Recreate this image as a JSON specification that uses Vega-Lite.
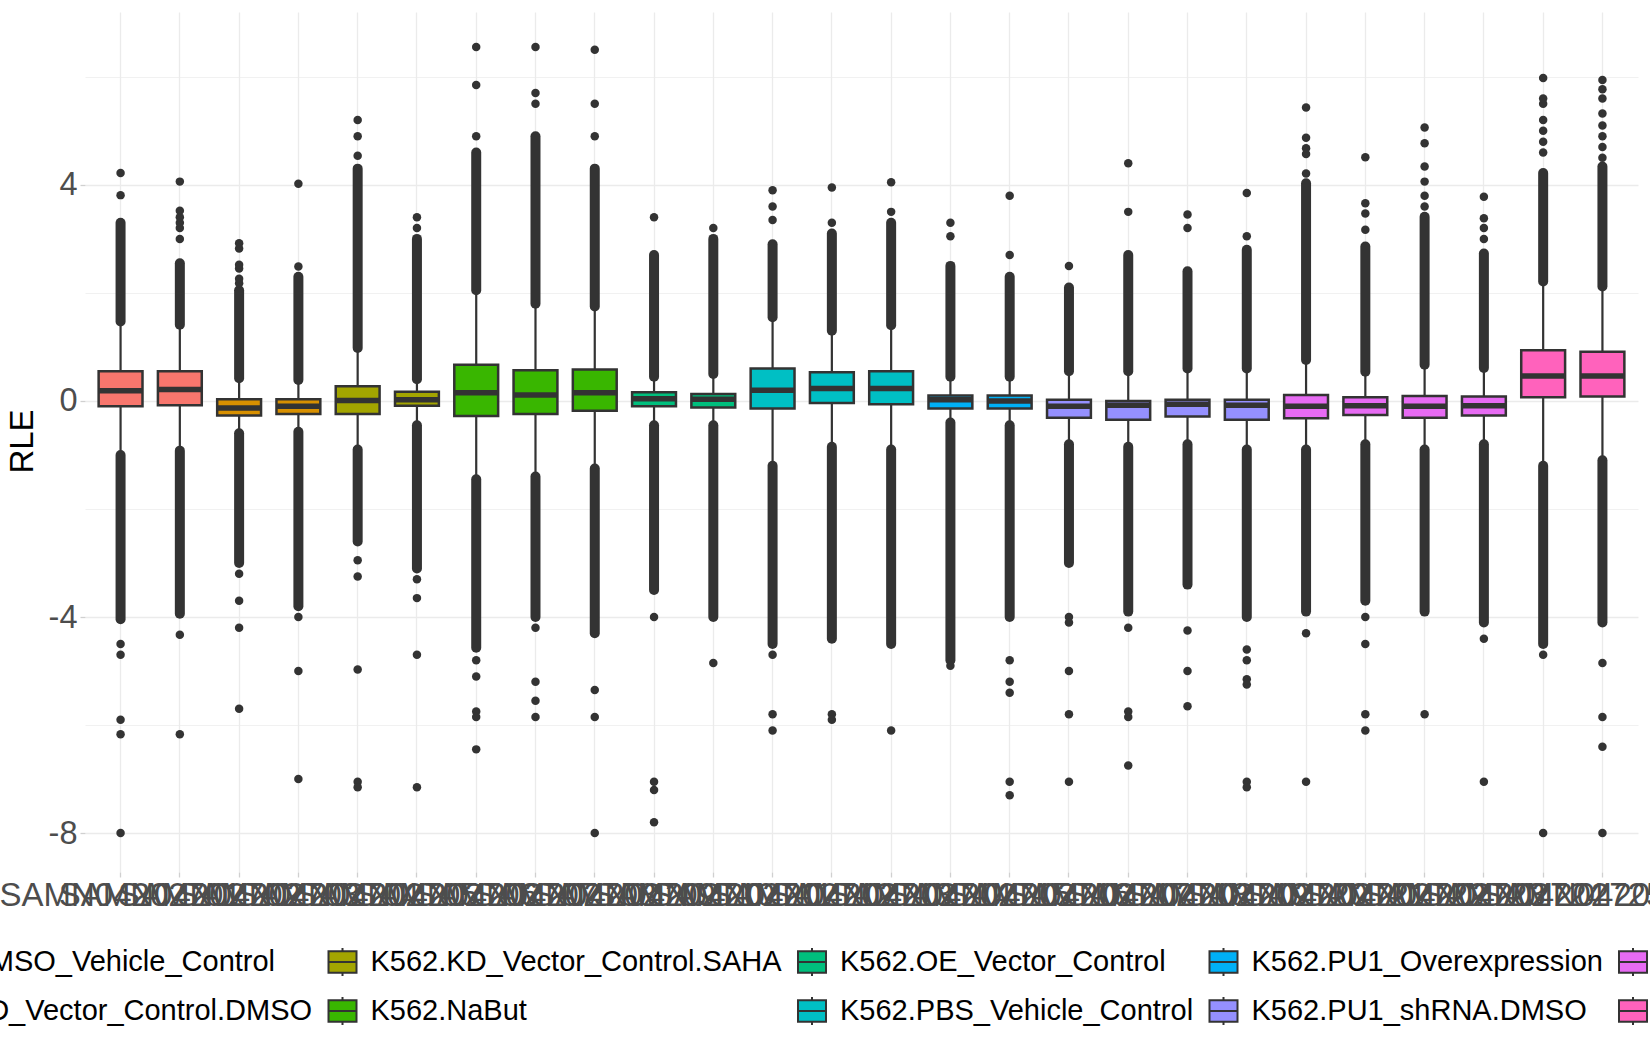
{
  "$schema": "https://vega.github.io/schema/vega-lite/v6.json",
  "width": 1553,
  "height": 860,
  "autosize": {"type": "none"},
  "padding": {"left": 85, "top": 12, "right": 12, "bottom": 178},
  "background": "white",
  "config": {"view": {"stroke": null}, "font": "Liberation Sans"},
  "datasets": {
    "boxes": [
      {"s": "SAMN04202701", "g": "K562.DMSO_Vehicle_Control", "loBot": -4.04, "lo": -1.0, "q1": -0.1, "med": 0.19, "q3": 0.55, "hi": 1.47, "hiTop": 3.3},
      {"s": "SAMN04202702", "g": "K562.DMSO_Vehicle_Control", "loBot": -3.94, "lo": -0.92, "q1": -0.08, "med": 0.21, "q3": 0.55, "hi": 1.41, "hiTop": 2.55},
      {"s": "SAMN04202703", "g": "K562.KD_Vector_Control.DMSO", "loBot": -3.0, "lo": -0.6, "q1": -0.27, "med": -0.13, "q3": 0.03, "hi": 0.42, "hiTop": 2.05},
      {"s": "SAMN04202704", "g": "K562.KD_Vector_Control.DMSO", "loBot": -3.8, "lo": -0.57, "q1": -0.24, "med": -0.1, "q3": 0.03, "hi": 0.39, "hiTop": 2.3},
      {"s": "SAMN04202705", "g": "K562.KD_Vector_Control.SAHA", "loBot": -2.6, "lo": -0.9, "q1": -0.24, "med": 0.01, "q3": 0.27, "hi": 0.98, "hiTop": 4.3},
      {"s": "SAMN04202706", "g": "K562.KD_Vector_Control.SAHA", "loBot": -3.1, "lo": -0.45, "q1": -0.09, "med": 0.02, "q3": 0.17, "hi": 0.4, "hiTop": 3.0},
      {"s": "SAMN04202707", "g": "K562.NaBut", "loBot": -4.57, "lo": -1.45, "q1": -0.28, "med": 0.15, "q3": 0.67, "hi": 2.05, "hiTop": 4.6},
      {"s": "SAMN04202708", "g": "K562.NaBut", "loBot": -4.0, "lo": -1.4, "q1": -0.24, "med": 0.11, "q3": 0.57, "hi": 1.8, "hiTop": 4.9},
      {"s": "SAMN04202709", "g": "K562.NaBut", "loBot": -4.3, "lo": -1.25, "q1": -0.18, "med": 0.15, "q3": 0.58, "hi": 1.75, "hiTop": 4.3},
      {"s": "SAMN04202710", "g": "K562.OE_Vector_Control", "loBot": -3.5, "lo": -0.45, "q1": -0.1, "med": 0.04, "q3": 0.16, "hi": 0.45, "hiTop": 2.7},
      {"s": "SAMN04202711", "g": "K562.OE_Vector_Control", "loBot": -4.0, "lo": -0.45, "q1": -0.12, "med": 0.03, "q3": 0.13, "hi": 0.5, "hiTop": 3.0},
      {"s": "SAMN04202712", "g": "K562.PBS_Vehicle_Control", "loBot": -4.5, "lo": -1.2, "q1": -0.14, "med": 0.2, "q3": 0.6, "hi": 1.55, "hiTop": 2.9},
      {"s": "SAMN04202713", "g": "K562.PBS_Vehicle_Control", "loBot": -4.4, "lo": -0.85, "q1": -0.04, "med": 0.23, "q3": 0.53, "hi": 1.3, "hiTop": 3.1},
      {"s": "SAMN04202714", "g": "K562.PBS_Vehicle_Control", "loBot": -4.5, "lo": -0.9, "q1": -0.06, "med": 0.23, "q3": 0.55, "hi": 1.4, "hiTop": 3.3},
      {"s": "SAMN04202715", "g": "K562.PU1_Overexpression", "loBot": -4.8, "lo": -0.4, "q1": -0.14, "med": 0.02, "q3": 0.1, "hi": 0.45, "hiTop": 2.5},
      {"s": "SAMN04202716", "g": "K562.PU1_Overexpression", "loBot": -4.0, "lo": -0.45, "q1": -0.14, "med": 0.0, "q3": 0.1, "hi": 0.45, "hiTop": 2.3},
      {"s": "SAMN04202717", "g": "K562.PU1_shRNA.DMSO", "loBot": -3.0, "lo": -0.8, "q1": -0.31, "med": -0.1, "q3": 0.02, "hi": 0.55, "hiTop": 2.1},
      {"s": "SAMN04202718", "g": "K562.PU1_shRNA.DMSO", "loBot": -3.9, "lo": -0.85, "q1": -0.35, "med": -0.08, "q3": 0.0, "hi": 0.55, "hiTop": 2.7},
      {"s": "SAMN04202719", "g": "K562.PU1_shRNA.DMSO", "loBot": -3.4, "lo": -0.8, "q1": -0.29, "med": -0.06, "q3": 0.02, "hi": 0.6, "hiTop": 2.4},
      {"s": "SAMN04202720", "g": "K562.PU1_shRNA.DMSO", "loBot": -4.0, "lo": -0.9, "q1": -0.35, "med": -0.08, "q3": 0.02, "hi": 0.6, "hiTop": 2.8},
      {"s": "SAMN04202721", "g": "K562.PU1_shRNA.SAHA", "loBot": -3.9, "lo": -0.9, "q1": -0.32, "med": -0.1, "q3": 0.11, "hi": 0.76, "hiTop": 4.03},
      {"s": "SAMN04202722", "g": "K562.PU1_shRNA.SAHA", "loBot": -3.7, "lo": -0.8, "q1": -0.26, "med": -0.09, "q3": 0.07, "hi": 0.54, "hiTop": 2.86},
      {"s": "SAMN04202723", "g": "K562.PU1_shRNA.SAHA", "loBot": -3.9, "lo": -0.9, "q1": -0.31, "med": -0.1, "q3": 0.09, "hi": 0.67, "hiTop": 3.41},
      {"s": "SAMN04202724", "g": "K562.PU1_shRNA.SAHA", "loBot": -4.1, "lo": -0.8, "q1": -0.27, "med": -0.09, "q3": 0.08, "hi": 0.61, "hiTop": 2.73},
      {"s": "SAMN04202725", "g": "K562.SAHA", "loBot": -4.5, "lo": -1.2, "q1": 0.07, "med": 0.46, "q3": 0.94, "hi": 2.21, "hiTop": 4.22},
      {"s": "SAMN04202726", "g": "K562.SAHA", "loBot": -4.1, "lo": -1.1, "q1": 0.08, "med": 0.46, "q3": 0.91, "hi": 2.12, "hiTop": 4.34}
    ],
    "points": [
      {"s": "SAMN04202701", "v": 3.81}, {"s": "SAMN04202701", "v": 4.22}, {"s": "SAMN04202701", "v": -4.5}, {"s": "SAMN04202701", "v": -4.7}, {"s": "SAMN04202701", "v": -5.9}, {"s": "SAMN04202701", "v": -6.17}, {"s": "SAMN04202701", "v": -8.0},
      {"s": "SAMN04202702", "v": 3.0}, {"s": "SAMN04202702", "v": 3.2}, {"s": "SAMN04202702", "v": 3.3}, {"s": "SAMN04202702", "v": 3.4}, {"s": "SAMN04202702", "v": 3.52}, {"s": "SAMN04202702", "v": 4.06}, {"s": "SAMN04202702", "v": -4.33}, {"s": "SAMN04202702", "v": -6.17},
      {"s": "SAMN04202703", "v": 2.18}, {"s": "SAMN04202703", "v": 2.26}, {"s": "SAMN04202703", "v": 2.45}, {"s": "SAMN04202703", "v": 2.52}, {"s": "SAMN04202703", "v": 2.82}, {"s": "SAMN04202703", "v": 2.92}, {"s": "SAMN04202703", "v": -3.2}, {"s": "SAMN04202703", "v": -3.7}, {"s": "SAMN04202703", "v": -4.2}, {"s": "SAMN04202703", "v": -5.7},
      {"s": "SAMN04202704", "v": 2.49}, {"s": "SAMN04202704", "v": 4.02}, {"s": "SAMN04202704", "v": -4.0}, {"s": "SAMN04202704", "v": -5.0}, {"s": "SAMN04202704", "v": -7.0},
      {"s": "SAMN04202705", "v": 4.54}, {"s": "SAMN04202705", "v": 4.9}, {"s": "SAMN04202705", "v": 5.2}, {"s": "SAMN04202705", "v": -2.95}, {"s": "SAMN04202705", "v": -3.25}, {"s": "SAMN04202705", "v": -4.97}, {"s": "SAMN04202705", "v": -7.05}, {"s": "SAMN04202705", "v": -7.15},
      {"s": "SAMN04202706", "v": 3.2}, {"s": "SAMN04202706", "v": 3.4}, {"s": "SAMN04202706", "v": -3.3}, {"s": "SAMN04202706", "v": -3.65}, {"s": "SAMN04202706", "v": -4.7}, {"s": "SAMN04202706", "v": -7.15},
      {"s": "SAMN04202707", "v": 4.9}, {"s": "SAMN04202707", "v": 5.85}, {"s": "SAMN04202707", "v": 6.55}, {"s": "SAMN04202707", "v": -4.8}, {"s": "SAMN04202707", "v": -5.1}, {"s": "SAMN04202707", "v": -5.75}, {"s": "SAMN04202707", "v": -5.85}, {"s": "SAMN04202707", "v": -6.45},
      {"s": "SAMN04202708", "v": 5.5}, {"s": "SAMN04202708", "v": 5.7}, {"s": "SAMN04202708", "v": 6.55}, {"s": "SAMN04202708", "v": -4.2}, {"s": "SAMN04202708", "v": -5.2}, {"s": "SAMN04202708", "v": -5.55}, {"s": "SAMN04202708", "v": -5.85},
      {"s": "SAMN04202709", "v": 4.9}, {"s": "SAMN04202709", "v": 5.5}, {"s": "SAMN04202709", "v": 6.5}, {"s": "SAMN04202709", "v": -5.35}, {"s": "SAMN04202709", "v": -5.85}, {"s": "SAMN04202709", "v": -8.0},
      {"s": "SAMN04202710", "v": 3.4}, {"s": "SAMN04202710", "v": -4.0}, {"s": "SAMN04202710", "v": -7.05}, {"s": "SAMN04202710", "v": -7.2}, {"s": "SAMN04202710", "v": -7.8},
      {"s": "SAMN04202711", "v": 3.2}, {"s": "SAMN04202711", "v": -4.85},
      {"s": "SAMN04202712", "v": 3.35}, {"s": "SAMN04202712", "v": 3.6}, {"s": "SAMN04202712", "v": 3.9}, {"s": "SAMN04202712", "v": -4.7}, {"s": "SAMN04202712", "v": -5.8}, {"s": "SAMN04202712", "v": -6.1},
      {"s": "SAMN04202713", "v": 3.3}, {"s": "SAMN04202713", "v": 3.95}, {"s": "SAMN04202713", "v": -5.8}, {"s": "SAMN04202713", "v": -5.9},
      {"s": "SAMN04202714", "v": 3.5}, {"s": "SAMN04202714", "v": 4.05}, {"s": "SAMN04202714", "v": -6.1},
      {"s": "SAMN04202715", "v": 3.05}, {"s": "SAMN04202715", "v": 3.3}, {"s": "SAMN04202715", "v": -4.9},
      {"s": "SAMN04202716", "v": 2.7}, {"s": "SAMN04202716", "v": 3.8}, {"s": "SAMN04202716", "v": -4.8}, {"s": "SAMN04202716", "v": -5.2}, {"s": "SAMN04202716", "v": -5.4}, {"s": "SAMN04202716", "v": -7.05}, {"s": "SAMN04202716", "v": -7.3},
      {"s": "SAMN04202717", "v": 2.5}, {"s": "SAMN04202717", "v": -4.0}, {"s": "SAMN04202717", "v": -4.1}, {"s": "SAMN04202717", "v": -5.0}, {"s": "SAMN04202717", "v": -5.8}, {"s": "SAMN04202717", "v": -7.05},
      {"s": "SAMN04202718", "v": 3.5}, {"s": "SAMN04202718", "v": 4.4}, {"s": "SAMN04202718", "v": -4.2}, {"s": "SAMN04202718", "v": -5.75}, {"s": "SAMN04202718", "v": -5.85}, {"s": "SAMN04202718", "v": -6.75},
      {"s": "SAMN04202719", "v": 3.2}, {"s": "SAMN04202719", "v": 3.45}, {"s": "SAMN04202719", "v": -4.25}, {"s": "SAMN04202719", "v": -5.0}, {"s": "SAMN04202719", "v": -5.65},
      {"s": "SAMN04202720", "v": 3.05}, {"s": "SAMN04202720", "v": 3.85}, {"s": "SAMN04202720", "v": -4.6}, {"s": "SAMN04202720", "v": -4.8}, {"s": "SAMN04202720", "v": -5.15}, {"s": "SAMN04202720", "v": -5.25}, {"s": "SAMN04202720", "v": -7.05}, {"s": "SAMN04202720", "v": -7.15},
      {"s": "SAMN04202721", "v": 4.21}, {"s": "SAMN04202721", "v": 4.57}, {"s": "SAMN04202721", "v": 4.68}, {"s": "SAMN04202721", "v": 4.87}, {"s": "SAMN04202721", "v": 5.43}, {"s": "SAMN04202721", "v": -4.3}, {"s": "SAMN04202721", "v": -7.05},
      {"s": "SAMN04202722", "v": 3.17}, {"s": "SAMN04202722", "v": 3.47}, {"s": "SAMN04202722", "v": 3.66}, {"s": "SAMN04202722", "v": 4.51}, {"s": "SAMN04202722", "v": -4.0}, {"s": "SAMN04202722", "v": -4.5}, {"s": "SAMN04202722", "v": -5.8}, {"s": "SAMN04202722", "v": -6.1},
      {"s": "SAMN04202723", "v": 3.6}, {"s": "SAMN04202723", "v": 3.8}, {"s": "SAMN04202723", "v": 4.06}, {"s": "SAMN04202723", "v": 4.34}, {"s": "SAMN04202723", "v": 4.77}, {"s": "SAMN04202723", "v": 5.06}, {"s": "SAMN04202723", "v": -5.8},
      {"s": "SAMN04202724", "v": 3.0}, {"s": "SAMN04202724", "v": 3.2}, {"s": "SAMN04202724", "v": 3.38}, {"s": "SAMN04202724", "v": 3.78}, {"s": "SAMN04202724", "v": -4.4}, {"s": "SAMN04202724", "v": -7.05},
      {"s": "SAMN04202725", "v": 4.6}, {"s": "SAMN04202725", "v": 4.8}, {"s": "SAMN04202725", "v": 5.0}, {"s": "SAMN04202725", "v": 5.2}, {"s": "SAMN04202725", "v": 5.5}, {"s": "SAMN04202725", "v": 5.6}, {"s": "SAMN04202725", "v": 5.98}, {"s": "SAMN04202725", "v": -4.7}, {"s": "SAMN04202725", "v": -8.0},
      {"s": "SAMN04202726", "v": 4.5}, {"s": "SAMN04202726", "v": 4.7}, {"s": "SAMN04202726", "v": 4.9}, {"s": "SAMN04202726", "v": 5.1}, {"s": "SAMN04202726", "v": 5.32}, {"s": "SAMN04202726", "v": 5.6}, {"s": "SAMN04202726", "v": 5.77}, {"s": "SAMN04202726", "v": 5.94}, {"s": "SAMN04202726", "v": -4.85}, {"s": "SAMN04202726", "v": -5.85}, {"s": "SAMN04202726", "v": -6.4}, {"s": "SAMN04202726", "v": -8.0}
    ]
  },
  "layer": [
    {
      "data": {"name": "boxes"},
      "mark": {"type": "rule", "color": "#333333", "strokeWidth": 2.2},
      "encoding": {
        "x": {
          "field": "s", "type": "nominal", "sort": null, "title": null,
          "scale": {"paddingInner": 0, "paddingOuter": 0.1},
          "axis": {
            "title": null, "grid": true, "gridColor": "#EBEBEB", "gridWidth": 1.3, "bandPosition": 0.5,
            "domain": false, "ticks": true, "tickColor": "#D0D0D0", "tickSize": 5, "tickWidth": 1.3,
            "labelFont": "Liberation Sans", "labelFontSize": 33, "labelColor": "#4D4D4D", "labelAngle": 0,
            "labelOverlap": false, "labelLimit": 1000, "labelPadding": 2.5, "labelBound": false, "labelFlush": false
          }
        },
        "y": {
          "field": "lo", "type": "quantitative", "title": "RLE",
          "scale": {"domain": [-8.72, 7.2], "nice": false, "zero": false},
          "axis": {
            "title": "RLE", "values": [-8, -6, -4, -2, 0, 2, 4, 6],
            "labelExpr": "datum.value % 4 === 0 ? (datum.value < 0 ? '-' + abs(datum.value) : '' + datum.value) : ''",
            "grid": true, "gridColor": "#EBEBEB",
            "gridWidth": {"condition": {"test": "datum.value % 4 === 0", "value": 1.3}, "value": 0.7},
            "domain": false, "tickColor": "#D0D0D0", "tickSize": 5, "tickWidth": 1.3,
            "tickOpacity": {"condition": {"test": "datum.value % 4 === 0", "value": 1}, "value": 0},
            "labelFont": "Liberation Sans", "labelFontSize": 32.5, "labelColor": "#4D4D4D", "labelPadding": 3,
            "titleFont": "Liberation Sans", "titleFontSize": 33, "titleColor": "black", "titleFontWeight": "normal",
            "titleAngle": 270, "titleX": -53, "titleY": 429, "titleAlign": "center", "titleBaseline": "alphabetic"
          }
        },
        "y2": {"field": "hi"}
      }
    },
    {
      "data": {"name": "boxes"},
      "mark": {"type": "rule", "color": "#333333", "strokeWidth": 10, "strokeCap": "round"},
      "encoding": {
        "x": {"field": "s", "type": "nominal", "sort": null, "title": null},
        "y": {"field": "hi", "type": "quantitative", "title": "RLE", "scale": {"domain": [-8.72, 7.2], "nice": false, "zero": false}},
        "y2": {"field": "hiTop"}
      }
    },
    {
      "data": {"name": "boxes"},
      "mark": {"type": "rule", "color": "#333333", "strokeWidth": 10, "strokeCap": "round"},
      "encoding": {
        "x": {"field": "s", "type": "nominal", "sort": null, "title": null},
        "y": {"field": "loBot", "type": "quantitative", "title": "RLE", "scale": {"domain": [-8.72, 7.2], "nice": false, "zero": false}},
        "y2": {"field": "lo"}
      }
    },
    {
      "data": {"name": "points"},
      "mark": {"type": "circle", "color": "#333333", "size": 72, "opacity": 1},
      "encoding": {
        "x": {"field": "s", "type": "nominal", "sort": null, "title": null},
        "y": {"field": "v", "type": "quantitative", "title": "RLE", "scale": {"domain": [-8.72, 7.2], "nice": false, "zero": false}}
      }
    },
    {
      "data": {"name": "boxes"},
      "mark": {"type": "bar", "stroke": "#333333", "strokeWidth": 2.5, "width": {"band": 0.74}, "opacity": 1},
      "encoding": {
        "x": {"field": "s", "type": "nominal", "sort": null, "title": null},
        "y": {"field": "q1", "type": "quantitative", "title": "RLE", "scale": {"domain": [-8.72, 7.2], "nice": false, "zero": false}},
        "y2": {"field": "q3"},
        "color": {
          "field": "g", "type": "nominal",
          "scale": {
            "domain": ["K562.DMSO_Vehicle_Control", "K562.KD_Vector_Control.DMSO", "K562.KD_Vector_Control.SAHA", "K562.NaBut", "K562.OE_Vector_Control", "K562.PBS_Vehicle_Control", "K562.PU1_Overexpression", "K562.PU1_shRNA.DMSO", "K562.PU1_shRNA.SAHA", "K562.SAHA"],
            "range": ["#F8766D", "#D89000", "#A3A500", "#39B600", "#00BF7D", "#00BFC4", "#00B0F6", "#9590FF", "#E76BF3", "#FF62BC"]
          },
          "legend": {
            "orient": "none", "legendX": -235, "legendY": 935, "columns": 5, "title": null,
            "symbolType": "M-1,-0.77H1V0.77H-1Z M-1,0H1 M0,-0.77V-1 M0,0.77V1",
            "symbolSize": 784, "symbolStrokeColor": "#333333", "symbolStrokeWidth": 2, "symbolOpacity": 1,
            "labelFont": "Liberation Sans", "labelFontSize": 29, "labelColor": "black", "labelOffset": 13,
            "columnPadding": 11.5, "rowPadding": 13, "labelLimit": 1000
          }
        }
      }
    },
    {
      "data": {"name": "boxes"},
      "mark": {"type": "tick", "color": "#333333", "size": 44, "thickness": 5.5, "opacity": 1},
      "encoding": {
        "x": {"field": "s", "type": "nominal", "sort": null, "title": null},
        "y": {"field": "med", "type": "quantitative", "title": "RLE", "scale": {"domain": [-8.72, 7.2], "nice": false, "zero": false}}
      }
    },
    {
      "mark": {"type": "rule", "color": "#FF0000", "strokeWidth": 2.7, "strokeDash": [11, 11]},
      "encoding": {"y": {"datum": 0, "type": "quantitative", "title": "RLE"}}
    }
  ]
}
